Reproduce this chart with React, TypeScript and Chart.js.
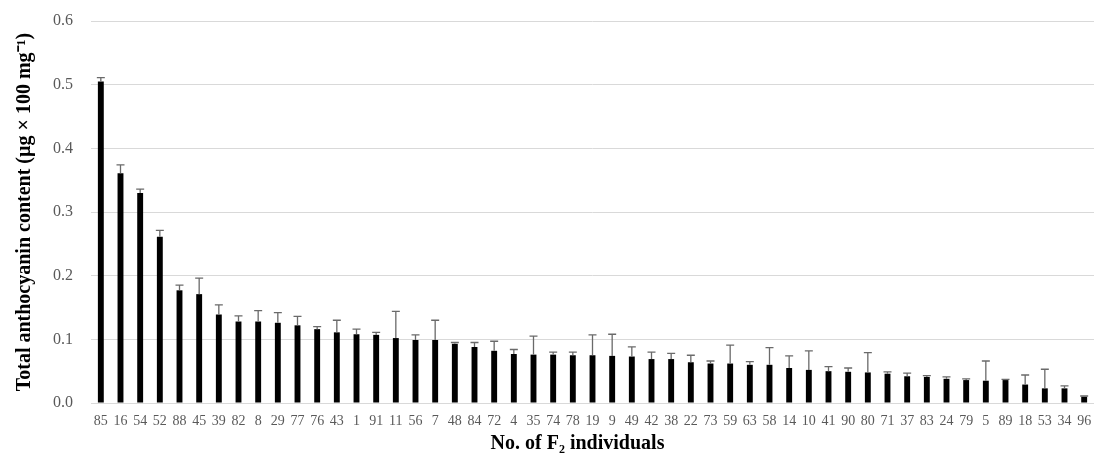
import React, { useEffect, useRef } from "react";
import { Chart, registerables } from "chart.js";

Chart.register(...registerables);

const categories = ["85","16","54","52","88","45","39","82","8","29","77","76","43","1","91","11","56","7","48","84","72","4","35","74","78","19","9","49","42","38","22","73","59","63","58","14","10","41","90","80","71","37","83","24","79","5","89","18","53","34","96"];

const values = [0.505,0.361,0.330,0.261,0.177,0.171,0.139,0.128,0.128,0.126,0.122,0.116,0.111,0.108,0.107,0.102,0.099,0.099,0.093,0.088,0.082,0.077,0.076,0.076,0.075,0.075,0.074,0.073,0.069,0.069,0.064,0.062,0.062,0.060,0.060,0.055,0.052,0.050,0.049,0.048,0.046,0.042,0.041,0.038,0.036,0.035,0.036,0.029,0.023,0.023,0.010];

const errors = [0.006,0.013,0.006,0.010,0.008,0.025,0.015,0.009,0.017,0.016,0.014,0.004,0.019,0.008,0.004,0.042,0.008,0.031,0.002,0.007,0.015,0.007,0.029,0.004,0.005,0.032,0.034,0.015,0.011,0.009,0.011,0.004,0.029,0.005,0.027,0.019,0.030,0.007,0.006,0.031,0.003,0.005,0.002,0.003,0.002,0.031,0.001,0.015,0.030,0.004,0.001];

const yTicks = [0, 0.1, 0.2, 0.3, 0.4, 0.5, 0.6];

const FONT = "'Liberation Serif', 'Times New Roman', serif";

const errorBarPlugin = {
  id: "errorBars",
  afterDatasetsDraw(chart: any) {
    const ctx = chart.ctx;
    const xs = chart.scales.x;
    const ys = chart.scales.y;
    ctx.save();
    ctx.strokeStyle = "#6a6a6a";
    ctx.lineWidth = 1.3;
    values.forEach((v, i) => {
      const x = xs.getPixelForValue(i);
      const y0 = ys.getPixelForValue(v);
      const y1 = ys.getPixelForValue(v + errors[i]);
      ctx.beginPath();
      ctx.moveTo(x, y0);
      ctx.lineTo(x, y1);
      ctx.moveTo(x - 4, y1);
      ctx.lineTo(x + 4, y1);
      ctx.stroke();
    });
    ctx.restore();
  },
};

export default function App() {
  const ref = useRef<HTMLCanvasElement | null>(null);
  useEffect(() => {
    if (!ref.current) return;
    const chart = new Chart(ref.current, {
      type: "bar",
      data: {
        labels: categories,
        datasets: [
          {
            data: values,
            backgroundColor: "#000000",
            borderWidth: 0,
            barPercentage: 0.3,
            categoryPercentage: 1,
          },
        ],
      },
      options: {
        animation: false,
        responsive: true,
        maintainAspectRatio: false,
        layout: { padding: { left: 0, right: 0, top: 21, bottom: 0 } },
        plugins: { legend: { display: false }, tooltip: { enabled: false } },
        scales: {
          x: {
            grid: { display: false, drawTicks: false },
            border: { display: false },
            ticks: {
              color: "#595959",
              font: { family: FONT, size: 14 },
              padding: 10,
              maxRotation: 0,
              minRotation: 0,
              autoSkip: false,
            },
            title: {
              display: true,
              text: "No. of F\u2082 individuals\u2002\u2002\u2002",
              color: "#000000",
              font: { family: FONT, size: 20, weight: "bold" },
              padding: { top: 0, bottom: 0 },
            },
            afterFit: (s: any) => {
              s.height = 53;
              s.paddingLeft = 0;
              s.paddingRight = 0;
            },
          },
          y: {
            min: 0,
            max: 0.6,
            afterBuildTicks: (s: any) => {
              s.ticks = yTicks.map((v) => ({ value: v }));
            },
            grid: { color: "#d9d9d9", lineWidth: 1, drawTicks: false },
            border: { display: false },
            ticks: {
              color: "#595959",
              font: { family: FONT, size: 16 },
              padding: 18,
              callback: (v: any) => Number(v).toFixed(1),
            },
            title: {
              display: true,
              text: "Total anthocyanin content (\u00b5g \u00d7 100 mg\u207b\u00b9)",
              color: "#000000",
              font: { family: FONT, size: 20, weight: "bold" },
              padding: { top: 13, bottom: 0 },
            },
            afterFit: (s: any) => {
              s.width = 91;
              s.paddingTop = 0;
              s.paddingBottom = 0;
            },
          },
        },
      },
      plugins: [errorBarPlugin],
    });
    return () => chart.destroy();
  }, []);
  return (
    <div style={{ position: "fixed", left: 0, top: 0, width: 1094, height: 456, background: "#fff" }}>
      <canvas ref={ref} />
    </div>
  );
}
